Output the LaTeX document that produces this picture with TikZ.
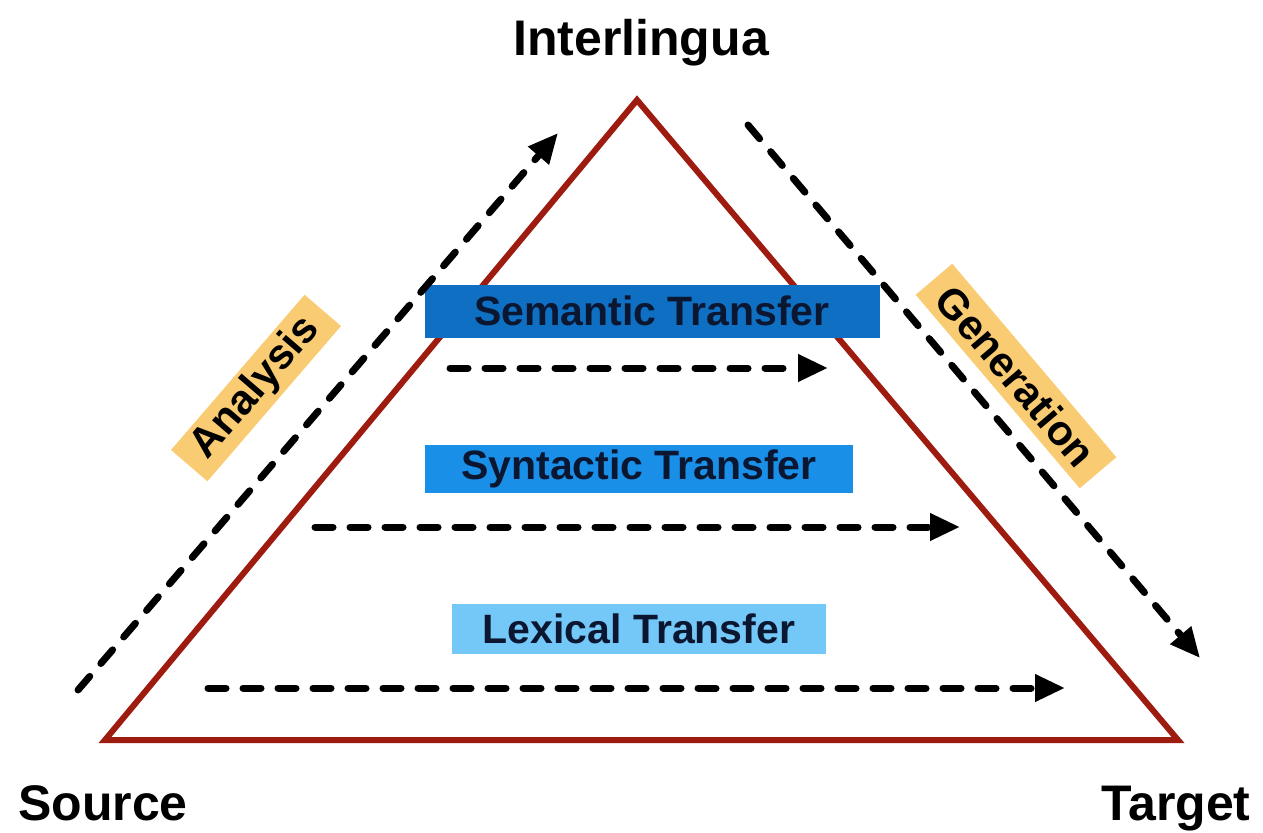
\documentclass[tikz,border=0pt]{standalone}
\usepackage{fontspec}
\setmainfont{Liberation Sans}
\usetikzlibrary{ calc, positioning, arrows.meta, shapes }
\definecolor{pyramid_red}{HTML}{9E1B10}
\definecolor{sem_blue}{HTML}{0F6FC2}
\definecolor{syn_blue}{HTML}{1A8FE8}
\definecolor{lex_blue}{HTML}{74C8F8}
\definecolor{label_orange}{HTML}{F9CB72}
\definecolor{box_text}{HTML}{0B1630}
\tikzset{
    corner_text/.style={anchor=base, text centered, align=center, font=\bfseries\fontsize{25}{30}\selectfont},
    transfer_box/.style={rectangle, text centered, align=center, inner sep=0pt, text=box_text, font=\bfseries\fontsize{20.5}{24}\selectfont},
    step_label/.style={rectangle, fill=label_orange, text centered, inner xsep=8pt, inner ysep=0pt, minimum height=24pt, font=\bfseries\fontsize{21}{25}\selectfont},
    dashed_arrow/.style={line width=3.5pt, line cap=round, dash pattern=on 9pt off 8.5pt, -{Triangle[length=15pt, width=13pt, line cap=butt, line join=miter]}},
    pyramid/.style={line width=3pt, draw=pyramid_red, line join=miter},
}
\begin{document}
\begin{tikzpicture}[x=0.5pt, y=0.5pt]
    \useasboundingbox (0,0) rectangle (1263,832);
    %%%%%%%%%%%
    % PYRAMID %
    %%%%%%%%%%%
    \coordinate (apex) at (637,732);
    \coordinate (left_base) at (105,92);
    \coordinate (right_base) at (1178,92);
    \draw [pyramid] (left_base) -- (apex) -- (right_base) -- cycle;

    \node (interlingua) [corner_text] at (641,776) {Interlingua};
    \node (source) [corner_text] at (103,12) {Source};
    \node (target) [corner_text] at (1176,12) {Target};

    %%%%%%%%%%%%%
    % TRANSFERS %
    %%%%%%%%%%%%%
    \node (semantic) [transfer_box, fill=sem_blue, minimum width=227.5pt, minimum height=26.5pt] at (652,521)
        {Semantic Transfer};
    \node (syntactic) [transfer_box, fill=syn_blue, minimum width=214pt, minimum height=24pt] at (639,363)
        {Syntactic Transfer};
    \node (lexical) [transfer_box, fill=lex_blue, minimum width=187pt, minimum height=25pt] at (639,203)
        {Lexical Transfer};

    \coordinate (sem_from) at (450,464);
    \coordinate (sem_to) at (828,464);
    \coordinate (syn_from) at (315,305);
    \coordinate (syn_to) at (960,305);
    \coordinate (lex_from) at (208,144);
    \coordinate (lex_to) at (1065,144);
    \draw [dashed_arrow] (sem_from) -- (sem_to);
    \draw [dashed_arrow] (syn_from) -- (syn_to);
    \draw [dashed_arrow] (lex_from) -- (lex_to);

    %%%%%%%%%%%%%%%%%%%%%%%%%%
    % ANALYSIS / GENERATION %
    %%%%%%%%%%%%%%%%%%%%%%%%%%
    \coordinate (ana_from) at (78,142);
    \coordinate (ana_to) at (558,699);
    \coordinate (gen_from) at (748,707);
    \coordinate (gen_to) at (1200,174);
    \draw [dashed_arrow] (ana_from) -- (ana_to);
    \draw [dashed_arrow] (gen_from) -- (gen_to);

    \node (analysis) [step_label, rotate=49.3] at (256,444) {Analysis};
    \node (generation) [step_label, rotate=-49.7] at (1016,456) {Generation};
\end{tikzpicture}
\end{document}
